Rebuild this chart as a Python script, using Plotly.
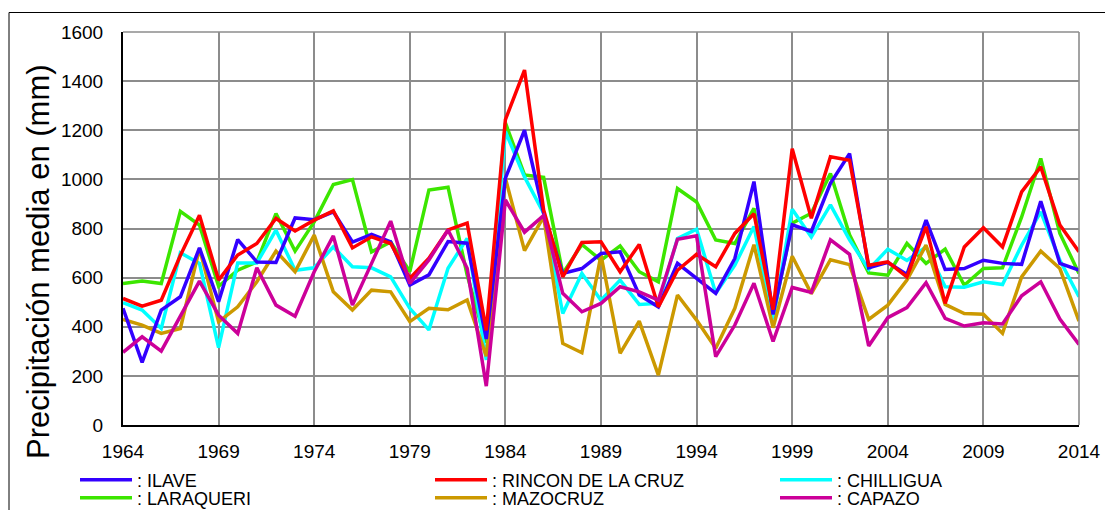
import plotly.graph_objects as go

# Annual mean precipitation (mm), 1964-2014, per station
years = list(range(1964, 2015))

ilave = [475, 255, 468, 522, 721, 502, 755, 664, 662, 843, 836, 868, 745, 776, 746, 570, 611,
         747, 740, 350, 1005, 1200, 862, 617, 637, 698, 705, 529, 481, 658, 597, 536, 678, 991,
         450, 815, 788, 984, 1105, 640, 662, 613, 834, 633, 637, 671, 658, 654, 911, 658, 631]

rincon = [515, 484, 508, 690, 854, 590, 692, 739, 841, 790, 834, 872, 721, 766, 739, 597, 679,
          794, 822, 385, 1243, 1445, 875, 603, 743, 746, 624, 735, 481, 630, 695, 644, 780, 860,
          470, 1125, 842, 1092, 1078, 650, 664, 603, 807, 495, 725, 803, 725, 949, 1051, 814, 705]

chilligua = [498, 468, 393, 701, 658, 315, 660, 660, 793, 630, 640, 725, 644, 640, 603, 475, 387,
             638, 760, 265, 1195, 1010, 862, 454, 617, 508, 590, 491, 495, 759, 797, 536, 651, 808,
             430, 878, 765, 896, 754, 633, 716, 670, 725, 563, 561, 583, 572, 732, 868, 671, 522]

laraqueri = [576, 586, 576, 870, 814, 565, 630, 664, 861, 708, 827, 979, 999, 705, 745, 625, 957,
             968, 610, 335, 1230, 1018, 1008, 617, 735, 671, 729, 624, 583, 963, 908, 753, 739, 882,
             443, 822, 862, 1024, 774, 619, 610, 739, 658, 716, 569, 637, 640, 847, 1085, 780, 617]

mazocruz = [430, 407, 373, 393, 719, 420, 481, 583, 708, 624, 773, 542, 468, 549, 542, 421, 475,
            469, 509, 280, 1005, 710, 848, 332, 294, 692, 292, 423, 203, 529, 427, 312, 475, 734,
            396, 687, 535, 673, 653, 430, 488, 590, 732, 491, 454, 451, 373, 603, 708, 637, 423]

capazo = [296, 359, 301, 447, 586, 447, 373, 640, 488, 443, 624, 770, 488, 658, 830, 576, 672,
          794, 638, 158, 916, 785, 853, 536, 461, 495, 563, 542, 508, 756, 770, 278, 407, 577,
          340, 560, 540, 754, 695, 322, 437, 478, 579, 434, 403, 416, 411, 526, 583, 431, 328]

x_ticks = list(range(1964, 2015, 5))
y_ticks = list(range(0, 1601, 200))

# Page geometry (pixels)
W, H = 1105, 510
ML, MR, MT, MB = 123, 26, 32, 85
PW, PH = W - ML - MR, H - MT - MB


def px_x(px):
    return (px - ML) / PW


def px_y(py):
    return (H - MB - py) / PH


series = [
    (": ILAVE", ilave, "#3300ff", "legend", 75, 480),
    (": RINCON DE LA CRUZ", rincon, "#ff0000", "legend2", 430, 480),
    (": CHILLIGUA", chilligua, "#00ffff", "legend3", 775, 480),
    (": LARAQUERI", laraqueri, "#3ce600", "legend4", 75, 498),
    (": MAZOCRUZ", mazocruz, "#cc9900", "legend5", 430, 498),
    (": CAPAZO", capazo, "#cc0099", "legend6", 775, 498),
]

# Draw order: later traces on top
draw_order = [3, 2, 4, 0, 1, 5]

fig = go.Figure()
for i in draw_order:
    name, vals, color, leg, _, _ = series[i]
    fig.add_trace(go.Scatter(
        x=years, y=vals, name=name, mode="lines",
        line=dict(color=color, width=3.5),
        legend=leg,
    ))

font_family = "Liberation Sans, Arial, sans-serif"

# One legend per entry, placed in container coordinates so the plot area keeps its size
legend_layouts = {}
for name, vals, color, leg, lx, ly in series:
    legend_layouts[leg] = dict(
        xref="container", yref="container",
        x=lx / W, y=1 - ly / H, xanchor="left", yanchor="middle",
        orientation="h", bgcolor="rgba(0,0,0,0)", borderwidth=0,
        font=dict(family=font_family, size=18, color="#000000"),
        itemwidth=52,
    )

fig.update_layout(
    width=W, height=H,
    margin=dict(l=ML, r=MR, t=MT, b=MB, pad=0, autoexpand=False),
    paper_bgcolor="#ffffff", plot_bgcolor="#ffffff",
    font=dict(family=font_family, color="#000000"),
    showlegend=True,
    **legend_layouts,
    xaxis=dict(
        range=[1964, 2014], tickmode="array", tickvals=x_ticks,
        ticktext=[str(v) for v in x_ticks],
        showgrid=True, gridcolor="#8c8c8c", gridwidth=1.6,
        showline=True, linecolor="#000000", linewidth=2,
        zeroline=False, ticks="", ticklabelstandoff=8,
        tickfont=dict(family=font_family, size=19, color="#000000"),
    ),
    yaxis=dict(
        range=[0, 1600], tickmode="array", tickvals=y_ticks,
        ticktext=[str(v) for v in y_ticks],
        showgrid=True, gridcolor="#8c8c8c", gridwidth=1.6,
        showline=True, linecolor="#000000", linewidth=2,
        zeroline=False, ticks="", ticklabelstandoff=14,
        tickfont=dict(family=font_family, size=19, color="#000000"),
    ),
    annotations=[dict(
        text="Precipitación media en (mm)", textangle=-90,
        xref="paper", yref="paper", x=px_x(38), y=px_y(262),
        xanchor="center", yanchor="middle", showarrow=False,
        font=dict(family=font_family, size=31, color="#000000"),
    )],
    shapes=[
        # right and top plot border
        dict(type="line", xref="paper", yref="paper", x0=1, x1=1, y0=0, y1=1,
             line=dict(color="#8c8c8c", width=1.6)),
        dict(type="line", xref="paper", yref="paper", x0=0, x1=1, y0=1, y1=1,
             line=dict(color="#8c8c8c", width=1.6)),
        # outer chart frame
        dict(type="rect", xref="paper", yref="paper",
             x0=px_x(9), x1=px_x(1120), y0=px_y(530), y1=px_y(12.5),
             line=dict(color="#000000", width=1), layer="above"),
    ],
)

fig.write_html("out.html")
